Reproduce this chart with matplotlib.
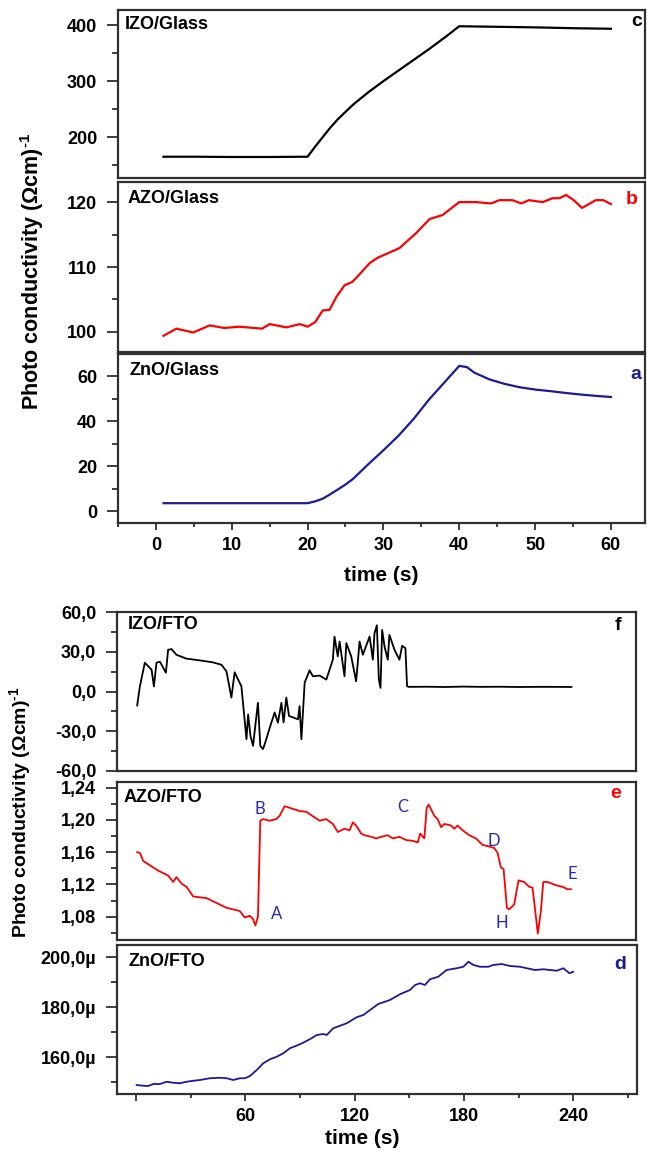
import matplotlib
matplotlib.use("Agg")
import matplotlib.pyplot as plt
from matplotlib.ticker import MultipleLocator, FixedLocator, FuncFormatter

plt.rcParams['font.family'] = ['Liberation Sans', 'DejaVu Sans']
plt.rcParams['font.weight'] = 'bold'
plt.rcParams['mathtext.fontset'] = 'custom'
plt.rcParams['mathtext.rm'] = 'Liberation Sans:bold'
plt.rcParams['mathtext.bf'] = 'Liberation Sans:bold'

BLACK = '#000000'
RED = '#ff0000'
BLUE = '#1a1a9c'
ANNOT_BLUE = '#2626b8'

# --- films on glass (0-60 s) ---
izo_glass_t = [1, 5, 10, 15, 20, 21, 22, 23, 24, 25, 26, 28, 30, 32, 34, 36, 38, 40, 45, 50, 55, 60]
izo_glass_y = [165, 165, 164.5, 164.5, 165, 183, 200, 217, 232, 245, 258, 280, 300, 319, 338, 357, 377,
               398, 397, 396, 394.5, 393.5]

azo_glass_t = [1, 2.7, 4.9, 7.1, 9, 11, 13, 14, 15, 17.2, 19, 20, 21, 22, 22.9, 23.8, 24.9, 25.9, 26.4,
               28.2, 29.2, 32.1, 34.3, 36.1, 37.8, 40, 42.2, 44.2, 45.3, 47, 48.2, 49.2, 51, 52.3, 53.2,
               54.1, 55.1, 56.2, 58, 59, 60]
azo_glass_y = [99.4, 100.5, 99.9, 101, 100.6, 100.8, 100.6, 100.5, 101.2, 100.7, 101.2, 100.8, 101.5,
               103.3, 103.4, 105.4, 107.2, 107.7, 108.3, 110.6, 111.4, 112.9, 115.2, 117.4, 118, 120, 120,
               119.8, 120.3, 120.3, 119.8, 120.3, 120, 120.6, 120.6, 121.1, 120.3, 119.1, 120.3, 120.3, 119.7]

zno_glass_t = [1, 5, 10, 15, 20, 21, 22, 23, 24, 25, 26, 28, 30, 32, 34, 36, 38, 40, 41, 42, 44, 46, 48,
               50, 52, 54, 56, 58, 60]
zno_glass_y = [3.5, 3.5, 3.5, 3.5, 3.5, 4.3, 5.5, 7.5, 9.6, 11.8, 14.3, 20.8, 27, 33.5, 41, 49.5, 57,
               64.5, 64, 61.5, 58.5, 56.5, 55, 54, 53.3, 52.5, 51.8, 51.2, 50.7]

# --- films on FTO (0-240 s) ---
izo_fto_t = [0.7, 2.2, 4.9, 8.6, 9.9, 11.3, 13.2, 16.5, 17.7, 19.6, 22.3, 27.8, 35.1, 42.3, 47, 49.8,
             52.5, 54.3, 56.2, 58, 60.8, 61.7, 63, 64.4, 67.1, 68.4, 69.9, 71.7, 73.6, 76.3, 78.1, 80,
             81.2, 82.7, 84.2, 86.3, 89.1, 90, 91, 92.8, 95.5, 97.3, 101, 104.7, 108.3, 109.2, 111, 112,
             114.7, 115.7, 118.4, 121.1, 123, 124.8, 128.5, 130.3, 131.2, 132.5, 133.6, 134.5, 135.4,
             136.7, 138.5, 139.4, 142.2, 144.9, 146.4, 148.2, 149.1, 150, 160, 170, 180, 190, 200, 210,
             220, 230, 239.5]
izo_fto_y = [-10.5, 4, 21.7, 16.5, 3.8, 21.7, 22.5, 14.2, 31.5, 32, 27.7, 24.8, 23.5, 22, 20.2, 15.2,
             -4.6, 14.5, 9, 4, -36, -17.3, -33.5, -41, -8.5, -41, -43.5, -36, -27.3, -15.8, -23.5, -8.5,
             -23.3, -4.5, -18.5, -19.5, -21, -11, -36, 6.7, 16, 11.5, 12, 9, 24, 41.5, 26.5, 37.7, 11.5,
             36.5, 26.5, 7.7, 37.7, 27.7, 41.5, 24, 44, 50, 9, 2.7, 46.5, 34, 24, 42.7, 31.5, 24, 34.5,
             32.7, 4, 3.5, 3.6, 3.4, 3.7, 3.5, 3.6, 3.4, 3.5, 3.5, 3.4]

azo_fto_t = [0.7, 2.2, 4, 6.8, 9.5, 12.3, 15, 17.7, 20.5, 22.3, 25.1, 27.8, 31.5, 35.1, 38.8, 42.4, 46.1,
             49.8, 53.4, 57.1, 59.8, 62.6, 64.4, 65.7, 67.1, 68.4, 69.9, 73.6, 77.2, 79, 81.8, 84.5, 90,
             93.7, 97, 101, 104.7, 108.3, 111, 114.7, 117.5, 119.3, 121.1, 123.9, 125.7, 129.4, 132.1,
             134.9, 138.5, 141.3, 144.9, 148.6, 152.2, 155, 156.3, 158.6, 159.9, 161, 164.1, 165.9, 167.8,
             169.6, 173.3, 175.1, 176.9, 179.7, 183.3, 187, 190.6, 194.3, 197.1, 198.9, 200.7, 202.2, 204,
             205.3, 208, 210.4, 213.5, 216.3, 218.1, 219.6, 221, 222.7, 224, 226.3, 230.9, 234.6, 237.3,
             239.2]
azo_fto_y = [1.160, 1.159, 1.149, 1.145, 1.141, 1.137, 1.134, 1.131, 1.123, 1.129, 1.121, 1.117, 1.105,
             1.104, 1.103, 1.099, 1.095, 1.091, 1.089, 1.087, 1.079, 1.081, 1.077, 1.069, 1.080, 1.199,
             1.201, 1.199, 1.201, 1.205, 1.217, 1.215, 1.211, 1.210, 1.205, 1.199, 1.201, 1.195, 1.185,
             1.189, 1.187, 1.197, 1.193, 1.183, 1.181, 1.179, 1.177, 1.179, 1.181, 1.177, 1.179, 1.175,
             1.174, 1.172, 1.183, 1.177, 1.215, 1.219, 1.205, 1.201, 1.191, 1.195, 1.193, 1.189, 1.193,
             1.187, 1.181, 1.177, 1.169, 1.167, 1.165, 1.159, 1.141, 1.139, 1.091, 1.089, 1.095, 1.125,
             1.123, 1.117, 1.116, 1.087, 1.059, 1.087, 1.123, 1.123, 1.119, 1.117, 1.114, 1.114]
azo_fto_marks = ['A', 'B', 'C', 'D', 'H', 'E']
azo_fto_mark_t = [77.4, 68, 146.6, 197, 201, 239.9]
azo_fto_mark_y = [1.0836, 1.2132, 1.2156, 1.1736, 1.0727, 1.1328]

zno_fto_t = [0.4, 4, 6.8, 9.5, 13.2, 16.8, 20.5, 24.2, 27.8, 31.5, 35.1, 40.6, 46.1, 49.8, 53.4, 57.1,
             59.8, 62.6, 66.3, 69.9, 73.6, 77.2, 80.9, 84.5, 89.1, 92.8, 96.4, 99.2, 102.8, 104.7, 108.3,
             115.7, 121.1, 124.8, 128.5, 133, 139.4, 144.9, 150.4, 153.2, 155.9, 158.6, 161.4, 165.9,
             170.5, 176, 179.7, 182.5, 185.2, 188.8, 193.4, 196.1, 200.7, 205.3, 210.8, 214.5, 219, 223.6,
             227.3, 230.9, 234.6, 237.9, 240]
zno_fto_y = [148.8, 148.5, 148.4, 149.2, 149.2, 150.1, 149.7, 149.5, 150.1, 150.5, 150.8, 151.5, 151.7,
             151.5, 150.8, 151.5, 151.5, 152.4, 154.8, 157.5, 159.1, 160.1, 161.5, 163.5, 164.8, 166.1,
             167.5, 168.8, 169.2, 168.8, 171.5, 173.5, 175.9, 176.8, 178.8, 181.2, 182.8, 185.1, 186.8,
             188.8, 189.5, 188.8, 191.1, 192.1, 194.8, 195.5, 196.1, 198.1, 196.8, 196.1, 196.1, 196.8,
             197.2, 196.4, 196.1, 195.5, 194.8, 195.1, 194.8, 194.5, 195.5, 193.5, 194.1]

W, H = 647, 1153
fig = plt.figure(figsize=(W / 100, H / 100), dpi=100)


def panel(left, top, right, bottom):
    ax = fig.add_axes([left / W, 1 - bottom / H, (right - left) / W, (bottom - top) / H])
    for s in ax.spines.values():
        s.set_linewidth(1.6)
        s.set_color('#303030')
    ax.tick_params(axis='y', which='major', direction='out', length=8, width=1.3,
                   labelsize=13, pad=7, colors='#303030', labelcolor='black')
    ax.tick_params(axis='y', which='minor', direction='out', length=4, width=1.3, colors='#303030')
    ax.tick_params(axis='x', which='major', direction='out', length=5, width=1.3,
                   labelsize=13, pad=5, colors='#303030', labelcolor='black')
    ax.tick_params(axis='x', which='minor', direction='out', length=3, width=1.3, colors='#303030')
    return ax


def hide_x(ax):
    ax.tick_params(axis='x', which='both', bottom=False, labelbottom=False)


def label(ax, title, letter, color, tx, ty, lx, ly, size=13):
    ax.text(tx, ty, title, transform=ax.transAxes, fontsize=size, fontweight='bold',
            ha='left', va='center')
    ax.text(lx, ly, letter, transform=ax.transAxes, fontsize=14, fontweight='bold',
            color=color, ha='center', va='center')


# ---------------- glass substrates ----------------
ax_c = panel(118, 10, 645, 178)
ax_c.plot(izo_glass_t, izo_glass_y, color=BLACK, lw=1.6)
ax_c.set_ylim(127, 427)
ax_c.yaxis.set_major_locator(MultipleLocator(100))
ax_c.yaxis.set_minor_locator(MultipleLocator(50))
label(ax_c, 'IZO/Glass', 'c', BLACK, 0.012, 0.915, 0.985, 0.93)

ax_b = panel(118, 182, 645, 352)
ax_b.plot(azo_glass_t, azo_glass_y, color=RED, lw=1.6)
ax_b.set_ylim(96.9, 123.1)
ax_b.yaxis.set_major_locator(MultipleLocator(10))
ax_b.yaxis.set_minor_locator(MultipleLocator(5))
label(ax_b, 'AZO/Glass', 'b', RED, 0.019, 0.905, 0.975, 0.9)

ax_a = panel(118, 354, 645, 523)
ax_a.plot(zno_glass_t, zno_glass_y, color=BLUE, lw=1.6)
ax_a.set_ylim(-5.3, 69.8)
ax_a.yaxis.set_major_locator(MultipleLocator(20))
ax_a.yaxis.set_minor_locator(MultipleLocator(10))
label(ax_a, 'ZnO/Glass', 'a', BLUE, 0.021, 0.9, 0.983, 0.88)

for ax in (ax_c, ax_b, ax_a):
    ax.set_xlim(-5, 64.5)
    ax.xaxis.set_major_locator(MultipleLocator(10))
    ax.xaxis.set_minor_locator(MultipleLocator(5))
hide_x(ax_c)
hide_x(ax_b)
ax_a.set_xlabel('time (s)', fontsize=15, fontweight='bold', labelpad=9)

ylab = r'Photo conductivity (Ωcm)$^{\text{-1}}$'
fig.text(32 / W, 1 - 271 / H, ylab, rotation=90, fontsize=15.5, fontweight='bold',
         ha='center', va='center')

# ---------------- FTO substrates ----------------
ax_f = panel(117, 612, 636, 771)
ax_f.plot(izo_fto_t, izo_fto_y, color=BLACK, lw=1.3)
ax_f.set_ylim(-60, 60)
ax_f.yaxis.set_major_locator(MultipleLocator(30))
ax_f.yaxis.set_minor_locator(MultipleLocator(15))
ax_f.yaxis.set_major_formatter(FuncFormatter(lambda v, p: f'{v:.1f}'.replace('.', ',')))
label(ax_f, 'IZO/FTO', 'f', BLACK, 0.021, 0.92, 0.965, 0.915)

ax_e = panel(117, 782, 636, 940)
ax_e.plot(azo_fto_t, azo_fto_y, color=RED, lw=1.3)
ax_e.set_ylim(1.051, 1.247)
ax_e.yaxis.set_major_locator(MultipleLocator(0.04))
ax_e.yaxis.set_minor_locator(MultipleLocator(0.02))
ax_e.yaxis.set_major_formatter(FuncFormatter(lambda v, p: f'{v:.2f}'.replace('.', ',')))
label(ax_e, 'AZO/FTO', 'e', RED, 0.012, 0.905, 0.96, 0.93)
for m, mt, my in zip(azo_fto_marks, azo_fto_mark_t, azo_fto_mark_y):
    ax_e.text(mt, my, m, color=ANNOT_BLUE, fontsize=12, fontweight='normal',
              family=['Lato', 'DejaVu Sans'], ha='center', va='center')

ax_d = panel(117, 945, 637, 1094)
ax_d.plot(zno_fto_t, zno_fto_y, color=BLUE, lw=1.3)
ax_d.set_ylim(145.2, 204.8)
ax_d.yaxis.set_major_locator(MultipleLocator(20))
ax_d.yaxis.set_minor_locator(MultipleLocator(10))
ax_d.yaxis.set_major_formatter(FuncFormatter(lambda v, p: f'{v:.1f}µ'.replace('.', ',')))
label(ax_d, 'ZnO/FTO', 'd', BLUE, 0.023, 0.89, 0.967, 0.866)

fto_ticks = [0, 60, 120, 180, 240]
for ax in (ax_f, ax_e, ax_d):
    ax.set_xlim(-10.4, 275)
    ax.xaxis.set_major_locator(FixedLocator(fto_ticks))
    ax.xaxis.set_minor_locator(FixedLocator([30, 90, 150, 210, 270]))
hide_x(ax_f)
hide_x(ax_e)
ax_d.xaxis.set_major_formatter(FuncFormatter(lambda v, p: '' if v == 0 else f'{v:.0f}'))
ax_d.set_xlabel('time (s)', fontsize=15, fontweight='bold')
ax_d.xaxis.set_label_coords((362 - 117) / (637 - 117), -0.235)

fig.text(21 / W, 1 - 812 / H, ylab, rotation=90, fontsize=14, fontweight='bold',
         ha='center', va='center')

fig.savefig('out.png', dpi=100)
